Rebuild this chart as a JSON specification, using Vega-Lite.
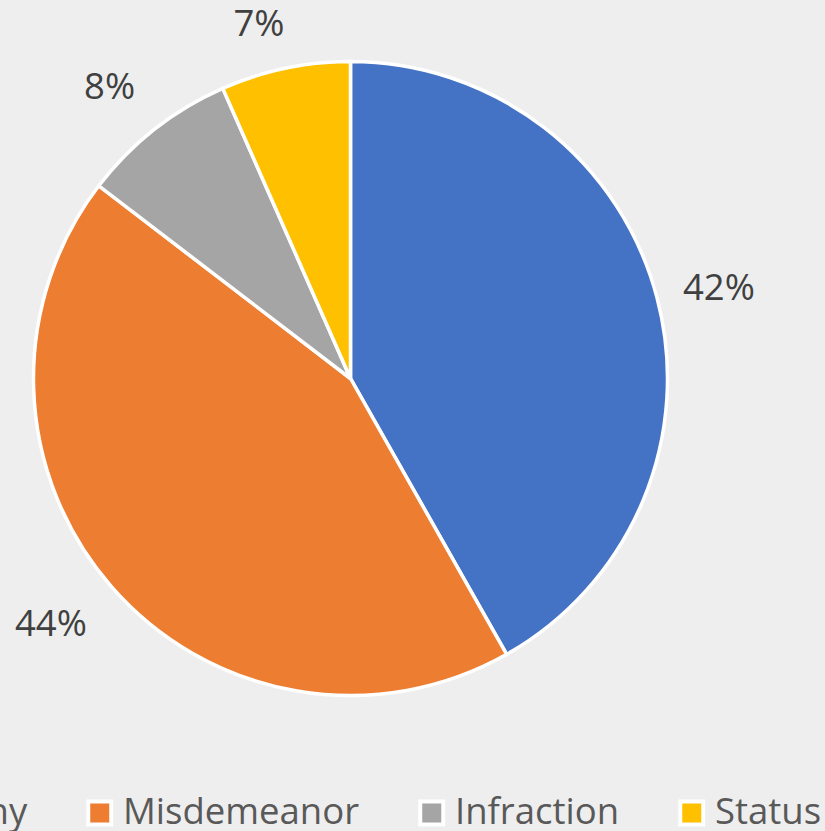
{
  "$schema": "https://vega.github.io/schema/vega-lite/v6.json",
  "width": 701,
  "height": 757,
  "autosize": {"type": "none"},
  "padding": {"left": 0, "top": 0, "right": 124, "bottom": 74},
  "background": "#EEEEEE",
  "config": {"view": {"stroke": null}, "font": "Open Sans"},
  "data": {
    "values": [
      {"category": "Felony", "share": 0.418, "idx": 1},
      {"category": "Misdemeanor", "share": 0.436, "idx": 2},
      {"category": "Infraction", "share": 0.080, "idx": 3},
      {"category": "Status", "share": 0.066, "idx": 4}
    ]
  },
  "encoding": {
    "theta": {"field": "share", "type": "quantitative", "stack": true},
    "order": {"field": "idx", "type": "quantitative"}
  },
  "layer": [
    {
      "mark": {"type": "arc", "outerRadius": 317, "stroke": "white", "strokeWidth": 3.5},
      "encoding": {
        "color": {
          "field": "category",
          "type": "nominal",
          "scale": {
            "domain": ["Felony", "Misdemeanor", "Infraction", "Status"],
            "range": ["#4472C4", "#ED7D31", "#A5A5A5", "#FFC000"]
          },
          "legend": {
            "orient": "none",
            "direction": "horizontal",
            "legendX": -125.5,
            "legendY": 794.5,
            "title": null,
            "padding": 0,
            "symbolType": "square",
            "symbolSize": 529,
            "symbolStrokeWidth": 4,
            "symbolStrokeColor": "white",
            "symbolOpacity": 1,
            "labelFont": "Open Sans",
            "labelFontSize": 36.5,
            "labelColor": "#595959",
            "labelOffset": 5,
            "columnPadding": 52,
            "labelLimit": 1000
          }
        }
      }
    },
    {
      "mark": {"type": "text", "radius": 381, "dy": 8, "fontSize": 36.5, "font": "Open Sans", "align": "center", "baseline": "middle"},
      "encoding": {
        "text": {
          "condition": {"test": "datum.category === 'Felony'", "field": "share", "type": "quantitative", "format": ".0%"},
          "value": ""
        },
        "color": {"value": "#404040"}
      }
    },
    {
      "mark": {"type": "text", "radius": 384, "dx": -10, "dy": -6, "fontSize": 36.5, "font": "Open Sans", "align": "center", "baseline": "middle"},
      "encoding": {
        "text": {
          "condition": {"test": "datum.category === 'Misdemeanor'", "field": "share", "type": "quantitative", "format": ".0%"},
          "value": ""
        },
        "color": {"value": "#404040"}
      }
    },
    {
      "mark": {"type": "text", "radius": 377, "dx": -8, "dy": 6, "fontSize": 36.5, "font": "Open Sans", "align": "center", "baseline": "middle"},
      "encoding": {
        "text": {
          "condition": {"test": "datum.category === 'Infraction'", "field": "share", "type": "quantitative", "format": ".0%"},
          "value": ""
        },
        "color": {"value": "#404040"}
      }
    },
    {
      "mark": {"type": "text", "radius": 362, "dx": -17, "dy": 1, "fontSize": 36.5, "font": "Open Sans", "align": "center", "baseline": "middle"},
      "encoding": {
        "text": {
          "condition": {"test": "datum.category === 'Status'", "field": "share", "type": "quantitative", "format": ".0%"},
          "value": ""
        },
        "color": {"value": "#404040"}
      }
    }
  ]
}
